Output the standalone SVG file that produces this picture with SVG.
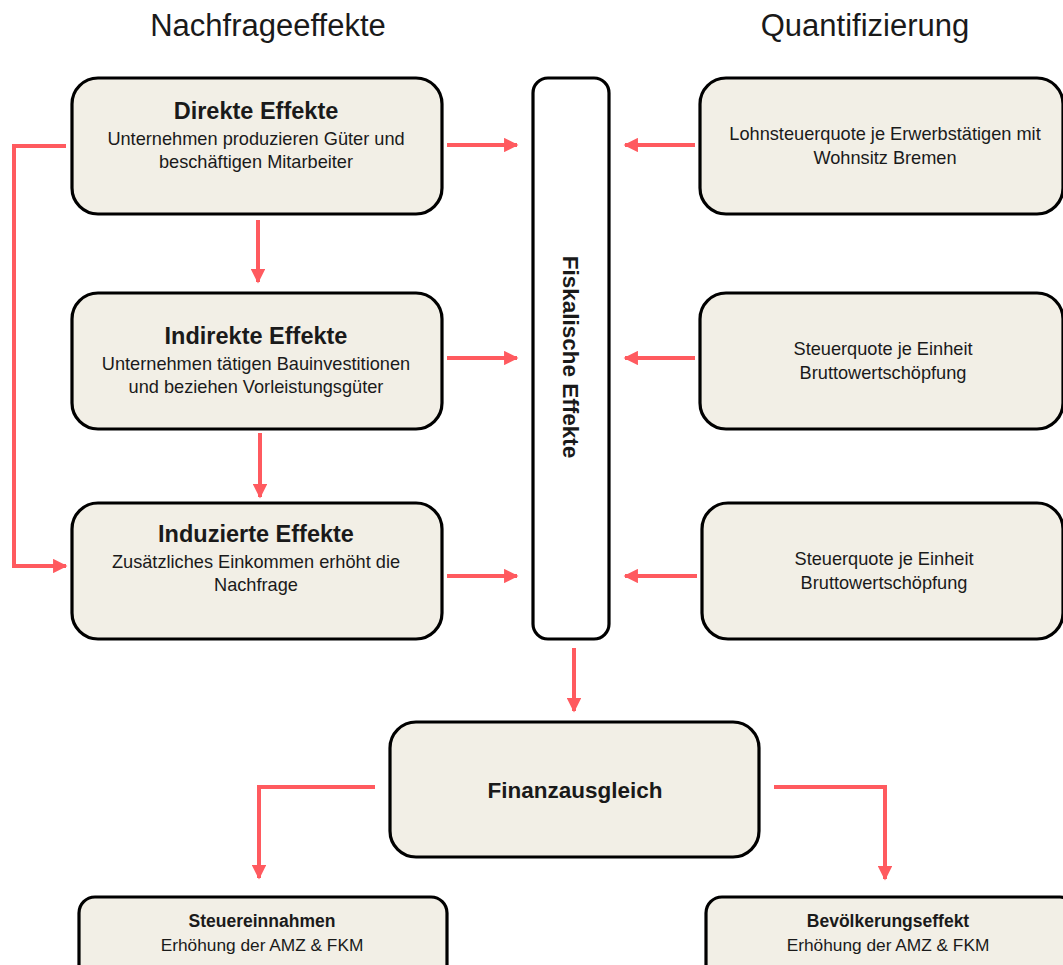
<svg xmlns="http://www.w3.org/2000/svg" width="1063" height="965" viewBox="0 0 1063 965">
<defs>
<marker id="ah" viewBox="0 0 10 10" refX="9" refY="5" markerWidth="4" markerHeight="3.6" markerUnits="strokeWidth" orient="auto">
<path d="M0,0 L10,5 L0,10 z" fill="#FF5A5F"/>
</marker>
<style>
.box{fill:#F2EFE6;stroke:#000;stroke-width:3.2}
.col{fill:#fff;stroke:#000;stroke-width:3.2}
.c{fill:none;stroke:#FF5A5F;stroke-width:4;marker-end:url(#ah)}
text{font-family:"Liberation Sans",Arial,sans-serif;text-anchor:middle;fill:#1a1a1a}
.h{font-size:31px}
.t{font-size:23.5px;font-weight:bold}
.s{font-size:18.2px}
.r{font-size:18.2px}
.f{font-size:22.5px;font-weight:bold}
.b{font-size:17.5px;font-weight:bold}
.bs{font-size:17.3px}
</style>
</defs>
<text class="h" x="268" y="36">Nachfrageeffekte</text>
<text class="h" x="865" y="36">Quantifizierung</text>
<g id="direkte">
<rect class="box" x="72" y="78" width="370" height="136" rx="26"/>
<text class="t" x="256" y="119">Direkte Effekte</text>
<text class="s" x="256" y="145">Unternehmen produzieren Güter und</text>
<text class="s" x="256" y="168">beschäftigen Mitarbeiter</text>
</g>
<g id="indirekte">
<rect class="box" x="72" y="293" width="370" height="136" rx="26"/>
<text class="t" x="256" y="344">Indirekte Effekte</text>
<text class="s" x="256" y="370">Unternehmen tätigen Bauinvestitionen</text>
<text class="s" x="256" y="393">und beziehen Vorleistungsgüter</text>
</g>
<g id="induzierte">
<rect class="box" x="72" y="503" width="370" height="136" rx="26"/>
<text class="t" x="256" y="542">Induzierte Effekte</text>
<text class="s" x="256" y="568">Zusätzliches Einkommen erhöht die</text>
<text class="s" x="256" y="591">Nachfrage</text>
</g>
<g id="fiskalisch">
<rect class="col" x="533" y="78" width="76" height="561" rx="15"/>
<text class="f" transform="translate(563,357) rotate(90)">Fiskalische Effekte</text>
</g>
<g id="lohn">
<rect class="box" x="700" y="78" width="363" height="136" rx="26"/>
<text class="r" x="885" y="140">Lohnsteuerquote je Erwerbstätigen mit</text>
<text class="r" x="885" y="164">Wohnsitz Bremen</text>
</g>
<g id="steuer1">
<rect class="box" x="700" y="293" width="363" height="136" rx="26"/>
<text class="r" x="883" y="355">Steuerquote je Einheit</text>
<text class="r" x="883" y="379">Bruttowertschöpfung</text>
</g>
<g id="steuer2">
<rect class="box" x="702" y="503" width="361" height="136" rx="26"/>
<text class="r" x="884" y="565">Steuerquote je Einheit</text>
<text class="r" x="884" y="589">Bruttowertschöpfung</text>
</g>
<g id="finanz">
<rect class="box" x="390" y="722" width="369" height="135" rx="26"/>
<text class="f" x="575" y="798">Finanzausgleich</text>
</g>
<g id="steuereinnahmen">
<rect class="box" x="79" y="897" width="368" height="90" rx="16"/>
<text class="b" x="262" y="927">Steuereinnahmen</text>
<text class="bs" x="262" y="951">Erhöhung der AMZ &amp; FKM</text>
</g>
<g id="bevoelkerung">
<rect class="box" x="706" y="897" width="370" height="90" rx="16"/>
<text class="b" x="888" y="927">Bevölkerungseffekt</text>
<text class="bs" x="888" y="951">Erhöhung der AMZ &amp; FKM</text>
</g>
<g id="connectors">
<path class="c" d="M447,145 H517"/>
<path class="c" d="M447,358 H517"/>
<path class="c" d="M447,576 H517"/>
<path class="c" d="M695,145 H625"/>
<path class="c" d="M695,358 H625"/>
<path class="c" d="M697,576 H625"/>
<path class="c" d="M258,220 V282"/>
<path class="c" d="M260,433 V497"/>
<path class="c" d="M66,146 H14 V566 H66"/>
<path class="c" d="M574,648 V711"/>
<path class="c" d="M375,787 H259 V878"/>
<path class="c" d="M774,787 H885 V879"/>
</g>
</svg>
